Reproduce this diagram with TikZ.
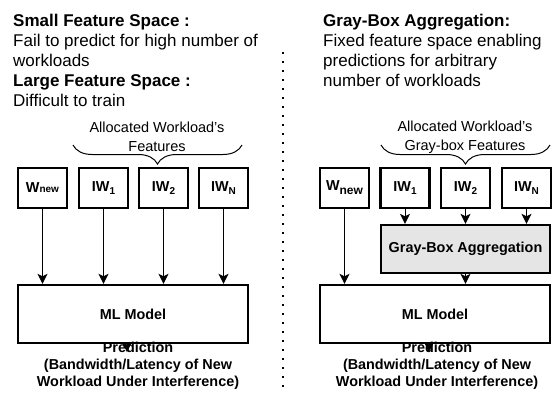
\documentclass[tikz,border=0pt]{standalone}
\usepackage{fontspec}
\setmainfont{Liberation Sans}
\usepackage{tikz}
\usetikzlibrary{arrows.meta, decorations.pathreplacing}

% kleiner Index unterhalb der Grundlinie
\newcommand{\tiefidx}[2][3.5pt]{\raisebox{-#1}{\fontsize{10}{10}\selectfont #2}}

\begin{document}
\begin{tikzpicture}[x=1pt, y=-1pt,
		>={Stealth[length=10pt, width=10pt, inset=2.5pt]},   %Voreinstellung für Pfeilspitzen
		wbox/.style={draw, line width=2.4pt, minimum width=49pt, minimum height=40pt, inner sep=0pt, font=\bfseries\fontsize{14.4}{16}\selectfont},
		mlbox/.style={draw, line width=2.4pt, minimum width=230pt, minimum height=58pt, inner sep=0pt, font=\bfseries\fontsize{14.4}{16}\selectfont},
		aggbox/.style={mlbox, fill=black!10, minimum width=169pt, minimum height=48pt},
		info/.style={anchor=north west, inner sep=0pt, align=left, font=\fontsize{17}{20}\selectfont},
		brlabel/.style={inner sep=0pt, align=center, font=\fontsize{14.5}{19}\selectfont},
		pred/.style={inner sep=0pt, align=center, font=\bfseries\fontsize{14.4}{17}\selectfont},
		pfeil/.style={->, line width=1pt},
		klammer/.style={decorate, decoration={brace, amplitude=19pt}, line width=1pt}]
		\useasboundingbox (0,0) rectangle (559,392);
		% Texte oben
		\node[info] (infoL) at (13,13.6) {\textbf{Small Feature Space :}\\Fail to predict for high number of\\workloads\\\textbf{Large Feature Space :}\\Difficult to train};
		\node[info] (infoR) at (323,13.6) {\textbf{Gray-Box Aggregation:}\\Fixed feature space enabling\\predictions for arbitrary\\number of workloads};
		% Trennlinie
		\coordinate (divtop) at (283,52);
		\coordinate (divbot) at (283,390);
		\draw[line width=2.4pt, dash pattern=on 2.4pt off 6.6pt] (divtop) -- (divbot);
		% linke Seite: Kästen
		\node[wbox] (wnewL) at (42.5,188) {W{\fontsize{10}{10}\selectfont new}};
		\node[wbox] (iwoneL) at (103.5,188) {IW\tiefidx{1}};
		\node[wbox] (iwtwoL) at (163.5,188) {IW\tiefidx{2}};
		\node[wbox] (iwnL) at (223.5,188) {IW\tiefidx{N}};
		\node[mlbox] (mlL) at (133,314) {ML Model};
		\node[pred] (predL) at (138,366) {Prediction\\(Bandwidth/Latency of New\\Workload Under Interference)};
		\coordinate (tipL) at (127,352);
		% Klammer links
		\draw[klammer] (242,145) -- (73,145);
		\node[brlabel] (brL) at (157,137) {Allocated Workload's\\Features};
		% Pfeile links
		\foreach \b in {wnewL, iwoneL, iwtwoL, iwnL}
			\draw[pfeil] (\b.south) -- (\b.south |- mlL.north);
		\draw[pfeil] (tipL |- mlL.south) -- (tipL);
		% rechte Seite: Kästen
		\node[wbox] (wnewR) at (344.5,188) {W\tiefidx[4pt]{\fontsize{12}{12}\selectfont new}};
		\node[wbox] (iwoneR) at (405,188) {IW\tiefidx{1}};
		\node[wbox] (iwtwoR) at (465.5,188) {IW\tiefidx{2}};
		\node[wbox] (iwnR) at (526.5,188) {IW\tiefidx{N}};
		\node[aggbox] (aggR) at (465.5,249) {Gray-Box Aggregation};
		\node[mlbox] (mlR) at (435,314) {ML Model};
		\node[pred] (predR) at (437,366) {Prediction\\(Bandwidth/Latency of New\\Workload Under Interference)};
		\coordinate (tipR) at (429,352);
		% Klammer rechts
		\draw[klammer] (550,145) -- (381,145);
		\node[brlabel] (brR) at (465,137) {Allocated Workload's\\Gray-box Features};
		% Pfeile rechts
		\foreach \b in {iwoneR, iwtwoR, iwnR}
			\draw[pfeil] (\b.south) -- (\b.south |- aggR.north);
		\draw[pfeil] (wnewR.south) -- (wnewR.south |- mlR.north);
		\draw[pfeil] (aggR.south) -- (aggR.south |- mlR.north);
		\draw[pfeil] (tipR |- mlR.south) -- (tipR);
	\end{tikzpicture}
\end{document}
